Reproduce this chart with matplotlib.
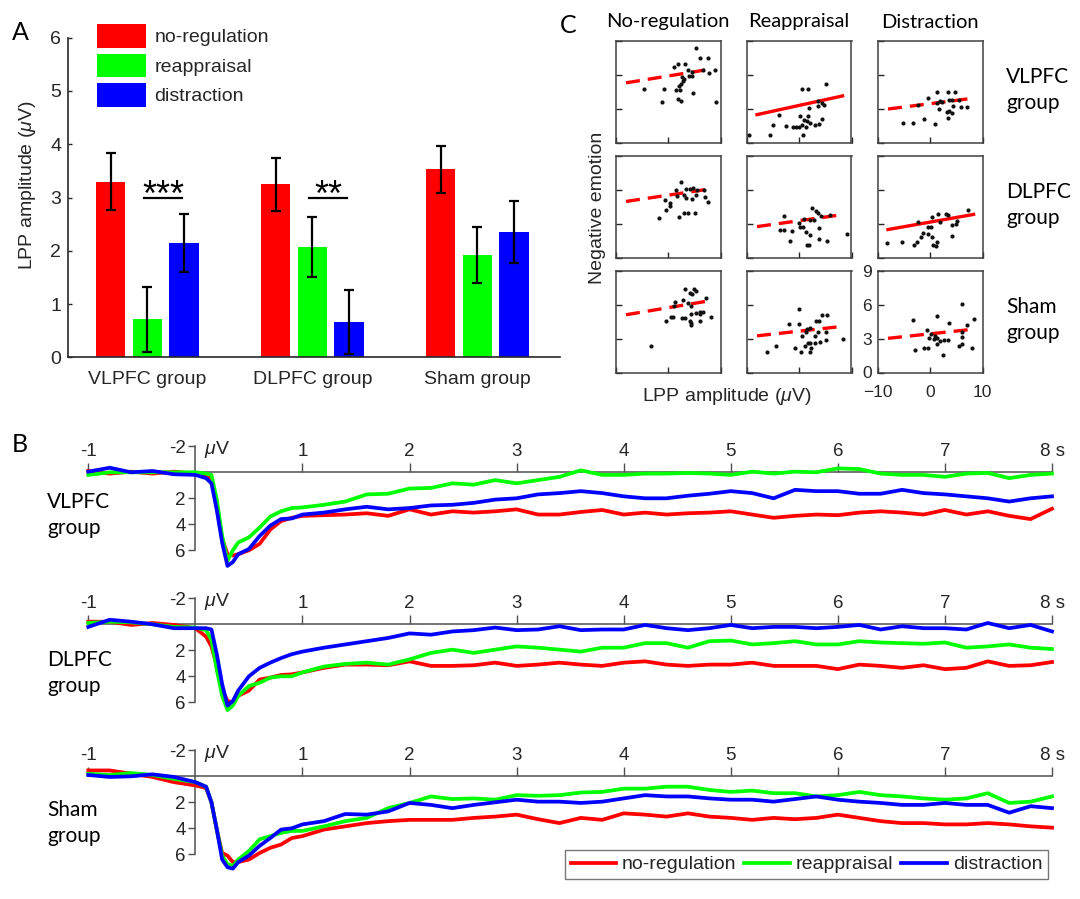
import matplotlib
matplotlib.use('Agg')
import matplotlib.pyplot as plt
import numpy as np

plt.rcParams['font.family'] = ['Liberation Sans', 'DejaVu Sans']
plt.rcParams['mathtext.fontset'] = 'custom'
plt.rcParams['mathtext.rm'] = 'Liberation Sans'
plt.rcParams['mathtext.it'] = 'Liberation Sans:italic'

# ---------------- data ----------------
groups = ['VLPFC group', 'DLPFC group', 'Sham group']
conditions = ['no-regulation', 'reappraisal', 'distraction']
cond_colors = ['#ff0000', '#00ff00', '#0000ff']

lpp_noreg = [3.30, 3.25, 3.53]
lpp_reapp = [0.71, 2.07, 1.92]
lpp_distr = [2.15, 0.67, 2.35]
err_noreg = [0.54, 0.50, 0.44]
err_reapp = [0.61, 0.56, 0.52]
err_distr = [0.54, 0.60, 0.58]
sig_groups = [0, 1]
sig_labels = ['***', '**']
sig_level = [3.0, 3.0]

# panel C scatter data (LPP amplitude, negative emotion)
vl_noreg_x = [5.34, 6.17, 7.57, 1.82, 3.23, 1.18, 3.80, 4.57, 6.61, 7.76, 9.04, 3.93, 4.57, 2.65, 3.10, 2.78, 2.52, 2.01, 2.20, 1.57, -4.57, -0.73, 4.76, -1.18, 1.82, 2.40, 9.23]
vl_noreg_y = [8.38, 7.48, 7.48, 6.92, 6.92, 6.68, 6.39, 6.24, 6.39, 6.15, 6.39, 5.94, 5.94, 5.79, 5.64, 5.49, 5.20, 5.05, 4.69, 4.66, 4.75, 4.75, 4.43, 3.56, 3.86, 3.71, 3.56]
vl_reapp_x = [5.11, 0.48, 1.75, 3.65, 4.29, 4.73, 3.65, 1.94, -3.84, 0.16, 1.75, 0.92, 1.56, 4.41, -1.11, -0.48, 0.03, 0.54, 1.30, 2.19, 3.02, 3.78, -2.51, -4.92, -9.56, -5.43, 0.79]
vl_reapp_y = [5.20, 4.75, 4.75, 3.71, 3.47, 3.36, 3.27, 3.06, 2.47, 2.38, 2.38, 1.99, 1.93, 2.08, 1.40, 1.40, 1.40, 1.54, 1.34, 1.72, 1.54, 1.63, 1.43, 1.54, 0.65, 0.65, 0.65]
vl_distr_x = [1.27, 3.50, 4.78, -0.45, 1.91, 3.63, 4.27, 5.54, -2.23, 1.40, 2.29, 1.78, 4.46, 5.86, 7.01, 3.69, 3.18, 4.20, 3.50, -1.15, 0.96, -5.22, -3.31]
vl_distr_y = [4.46, 4.46, 4.46, 3.92, 3.71, 3.80, 3.80, 3.80, 3.36, 3.47, 3.59, 2.97, 3.27, 3.12, 3.12, 2.82, 2.73, 2.64, 2.17, 2.08, 1.63, 1.69, 1.69]
dl_noreg_x = [2.46, 1.57, 3.42, 4.12, 4.76, 5.53, 5.34, -0.54, 0.42, 0.29, -0.35, 1.69, 3.48, 4.57, 6.81, 7.12, 7.64, -1.69, 2.14, 3.10, 3.74, 5.21, 2.97]
dl_noreg_y = [6.70, 6.01, 6.10, 6.10, 6.19, 5.95, 5.57, 5.06, 4.85, 4.61, 4.17, 5.42, 5.27, 5.15, 5.95, 5.36, 4.91, 3.51, 3.57, 3.96, 3.96, 3.96, 5.51]
dl_reapp_x = [2.51, 3.21, 3.71, 4.10, 5.87, -2.95, 0.92, 2.19, 2.83, -0.03, 0.16, 0.79, -3.65, -2.95, -1.24, 3.84, 1.24, 2.19, -1.62, 1.43, 1.94, 3.84, 5.24, 9.05]
dl_reapp_y = [4.38, 4.11, 3.93, 3.72, 3.78, 3.66, 3.42, 3.36, 3.36, 3.07, 2.68, 2.74, 2.44, 2.44, 2.38, 2.62, 2.29, 1.99, 1.49, 1.13, 1.13, 1.64, 1.49, 2.08]
dl_distr_x = [7.20, 0.45, 1.46, 2.99, 3.50, 1.91, -2.23, -0.45, 0.19, 4.14, 5.22, 4.97, -1.27, -1.72, -0.32, 0.45, 1.27, 4.14, -3.06, -2.55, 0.64, 1.15, -8.15, -5.41]
dl_distr_y = [4.17, 3.63, 3.87, 3.87, 3.78, 3.13, 3.13, 2.74, 2.74, 2.92, 3.27, 2.98, 2.17, 1.79, 2.08, 1.79, 1.40, 1.93, 1.13, 1.34, 1.13, 1.04, 1.25, 1.40]
sh_noreg_x = [3.21, 4.92, 5.24, 4.16, 4.60, 2.83, 1.30, 7.33, 1.11, 3.78, 4.29, 0.48, 0.92, -0.29, 2.70, 3.33, 4.29, 5.24, 6.00, 6.70, 6.19, 4.10, 4.41, 4.29, 6.19, 8.22, -3.21]
sh_noreg_y = [7.44, 7.44, 7.27, 7.07, 6.92, 6.40, 6.26, 6.58, 5.86, 6.20, 5.91, 4.90, 4.90, 4.56, 4.85, 4.85, 5.19, 5.25, 5.39, 5.39, 5.19, 4.61, 4.41, 4.18, 4.61, 4.90, 2.37]
sh_reapp_x = [0.03, -1.94, 0.03, 3.33, 3.84, 4.29, 5.37, 1.43, 2.06, 0.60, 1.24, 3.02, 3.65, 5.05, 5.05, 1.62, 2.19, 3.14, 1.11, 2.38, 3.97, -0.67, 0.29, 2.06, -4.35, -6.19, 8.41]
sh_reapp_y = [5.62, 4.33, 4.33, 4.56, 4.56, 5.11, 5.11, 3.89, 3.95, 3.26, 3.55, 3.26, 3.55, 3.61, 2.88, 2.65, 2.60, 2.60, 2.31, 2.16, 2.74, 2.16, 1.82, 1.82, 2.31, 1.82, 2.94]
sh_distr_x = [6.19, -3.27, 1.30, 3.65, 7.02, 8.41, -0.60, 0.16, 0.98, -0.16, 0.67, 1.30, 1.94, 2.70, 3.52, 6.06, 6.06, 5.56, 6.19, -2.83, -1.11, -0.29, 2.57, 7.97, 1.30]
sh_distr_y = [6.06, 4.67, 5.05, 4.41, 4.18, 4.76, 3.75, 3.37, 3.26, 3.03, 2.94, 3.09, 2.80, 2.88, 2.88, 3.55, 3.17, 2.39, 2.54, 1.96, 2.16, 2.16, 1.59, 2.16, 2.51]

# regression lines: y at x=-8 and at x=8.3, and whether significant (solid)
fit_x = [-8.0, 8.3]
fit_y_start = [[5.29, 2.47, 2.97], [4.97, 2.74, 2.48], [5.12, 3.25, 3.03]]
fit_y_end = [[6.52, 4.13, 3.93], [6.10, 3.80, 3.82], [6.39, 4.09, 3.84]]
fit_significant = [[False, True, False], [False, False, True], [False, False, False]]

col_titles = ['No-regulation', 'Reappraisal', 'Distraction']
row_titles = ['VLPFC\ngroup', 'DLPFC\ngroup', 'Sham\ngroup']

# panel B ERP waveforms (time in s, amplitude in microvolts)
erp_t = [-1.0, -0.8, -0.6, -0.4, -0.2, 0.0, 0.1, 0.15, 0.2, 0.25, 0.3, 0.35, 0.4,
         0.5, 0.6, 0.7, 0.8, 0.9, 1.0, 1.2, 1.4, 1.6, 1.8, 2.0, 2.2, 2.4, 2.6, 2.8,
         3.0, 3.2, 3.4, 3.6, 3.8, 4.0, 4.2, 4.4, 4.6, 4.8, 5.0, 5.2, 5.4, 5.6, 5.8,
         6.0, 6.2, 6.4, 6.6, 6.8, 7.0, 7.2, 7.4, 7.6, 7.8, 8.0]
vl_erp_noreg = [-0.1, 0.1, -0.05, 0.1, -0.05, 0.1, 0.2, 0.45, 2.7, 5.1, 6.3, 6.4, 6.3,
                6.0, 5.5, 4.4, 3.75, 3.5, 3.35, 3.3, 3.25, 3.15, 3.35, 2.85, 3.25, 3.0, 3.1, 3.0,
                2.85, 3.25, 3.25, 3.05, 2.9, 3.25, 3.1, 3.25, 3.15, 3.1, 3.0, 3.25, 3.5, 3.35, 3.25,
                3.3, 3.1, 3.0, 3.1, 3.25, 2.9, 3.25, 3.0, 3.35, 3.6, 2.8]
vl_erp_reapp = [0.2, 0.0, 0.0, 0.0, 0.0, 0.0, 0.1, 0.2, 2.1, 4.9, 6.8, 6.0, 5.4,
                5.0, 4.25, 3.4, 3.0, 2.75, 2.7, 2.5, 2.25, 1.7, 1.65, 1.25, 1.2, 0.85, 0.95, 0.6,
                0.85, 0.6, 0.35, -0.15, 0.2, 0.2, 0.1, 0.1, 0.05, 0.1, 0.2, -0.05, 0.1, -0.05, 0.0,
                -0.3, -0.25, 0.1, 0.2, 0.2, 0.35, 0.1, 0.05, 0.45, 0.2, 0.1]
vl_erp_distr = [-0.05, -0.35, 0.0, -0.1, 0.15, 0.2, 0.45, 0.85, 2.9, 5.4, 7.2, 6.9, 6.3,
                5.9, 4.9, 4.1, 3.6, 3.55, 3.25, 3.1, 2.85, 2.65, 2.85, 2.75, 2.55, 2.5, 2.35, 2.1,
                2.0, 1.7, 1.6, 1.45, 1.6, 1.85, 2.0, 2.0, 1.8, 1.65, 1.45, 1.6, 2.0, 1.35, 1.45,
                1.45, 1.65, 1.65, 1.35, 1.6, 1.7, 1.85, 2.0, 2.25, 2.0, 1.85]
dl_erp_noreg = [-0.2, -0.2, 0.05, -0.1, 0.05, 0.3, 0.95, 1.7, 3.2, 5.0, 5.9, 6.0, 5.5,
                5.1, 4.25, 4.1, 3.9, 3.85, 3.7, 3.35, 3.1, 3.1, 3.15, 2.85, 3.2, 3.2, 3.15, 2.95,
                3.2, 3.1, 2.95, 3.1, 3.2, 2.95, 2.85, 3.1, 3.2, 3.1, 3.1, 2.95, 3.2, 3.2, 3.2,
                3.45, 3.1, 3.2, 3.35, 3.15, 3.45, 3.35, 2.85, 3.2, 3.15, 2.9]
dl_erp_reapp = [-0.1, -0.2, -0.15, 0.0, 0.2, 0.25, 0.45, 1.2, 3.5, 5.5, 6.6, 6.25, 5.5,
                4.75, 4.5, 4.1, 4.0, 4.0, 3.7, 3.25, 3.05, 2.95, 3.1, 2.7, 2.2, 1.95, 2.2, 1.95,
                1.7, 1.8, 1.95, 2.1, 1.8, 1.8, 1.45, 1.45, 1.8, 1.3, 1.25, 1.55, 1.45, 1.3, 1.55,
                1.55, 1.3, 1.4, 1.45, 1.5, 1.4, 1.8, 1.7, 1.55, 1.8, 1.9]
dl_erp_distr = [0.2, -0.35, -0.2, 0.0, 0.3, 0.3, 0.3, 0.4, 2.3, 4.6, 6.25, 5.9, 5.1,
                4.0, 3.35, 2.95, 2.6, 2.3, 2.1, 1.8, 1.55, 1.3, 1.05, 0.7, 0.8, 0.55, 0.45, 0.25,
                0.45, 0.4, 0.15, 0.45, 0.4, 0.4, 0.05, 0.3, 0.45, 0.3, 0.05, 0.3, 0.2, 0.2, 0.3,
                0.2, 0.05, 0.4, 0.15, 0.3, 0.3, 0.4, -0.1, 0.3, 0.05, 0.55]
sh_erp_noreg = [-0.45, -0.45, -0.2, 0.05, 0.45, 0.7, 0.9, 2.0, 4.1, 5.9, 6.1, 6.6, 6.6,
                6.4, 5.9, 5.5, 5.25, 4.75, 4.6, 4.1, 3.85, 3.6, 3.45, 3.35, 3.35, 3.35, 3.2, 3.1,
                2.95, 3.3, 3.6, 3.2, 3.35, 2.85, 2.95, 3.1, 2.85, 3.1, 3.2, 3.35, 3.2, 3.3, 3.2,
                2.95, 3.2, 3.45, 3.6, 3.6, 3.7, 3.7, 3.6, 3.7, 3.85, 3.95]
sh_erp_reapp = [-0.2, -0.1, -0.25, -0.1, 0.2, 0.45, 0.8, 2.0, 4.1, 6.1, 6.75, 6.9, 6.4,
                5.75, 4.85, 4.6, 4.35, 4.2, 4.2, 3.85, 3.45, 3.2, 2.45, 2.05, 1.55, 1.75, 1.7, 1.8,
                1.45, 1.5, 1.45, 1.25, 1.2, 0.95, 0.95, 0.8, 0.8, 1.05, 1.2, 1.1, 1.3, 1.3, 1.55,
                1.45, 1.2, 1.45, 1.55, 1.7, 1.8, 1.7, 1.3, 2.05, 1.95, 1.55]
sh_erp_distr = [-0.1, 0.05, 0.0, -0.15, 0.05, 0.45, 0.8, 2.0, 4.1, 6.4, 7.0, 7.1, 6.6,
                6.1, 5.35, 4.75, 4.1, 4.0, 3.7, 3.45, 2.9, 2.95, 2.7, 2.05, 2.2, 2.45, 2.2, 2.0,
                1.8, 1.95, 1.95, 2.05, 1.95, 1.7, 1.45, 1.55, 1.55, 1.7, 1.8, 1.8, 1.95, 1.75, 1.55,
                1.8, 1.95, 2.05, 2.2, 2.2, 2.05, 2.2, 2.2, 2.8, 2.3, 2.45]

erp_xticks = [-1, 1, 2, 3, 4, 5, 6, 7, 8]
erp_xticklabels = ['-1', '1', '2', '3', '4', '5', '6', '7', '8 s']
erp_yticks = [-2, 2, 4, 6]
erp_yticklabels = ['-2', '2', '4', '6']
erp_rows = ['VLPFC\ngroup', 'DLPFC\ngroup', 'Sham\ngroup']

# ---------------- figure ----------------
W, H = 1080, 899
fig = plt.figure(figsize=(W / 100, H / 100), dpi=100)
GREY = '#262626'
CAL = ['Lato', 'DejaVu Sans']


def ax_px(l, t, r, b):
    return fig.add_axes([l / W, 1 - b / H, (r - l) / W, (b - t) / H])


def ftext(x, y, s, **kw):
    return fig.text(x / W, 1 - y / H, s, **kw)


# ---------- Panel A ----------
axA = ax_px(68, 37.7, 560, 357.3)
xg = np.arange(1, len(groups) + 1)
offs = [-0.2222, 0.0, 0.2222]
bw = 0.178
means = [lpp_noreg, lpp_reapp, lpp_distr]
errs = [err_noreg, err_reapp, err_distr]
bars = []
for i in range(3):
    b = axA.bar(xg + offs[i], means[i], bw, color=cond_colors[i], label=conditions[i], zorder=2)
    bars.append(b)
    axA.errorbar(xg + offs[i], means[i], yerr=errs[i], fmt='none', ecolor='k',
                 elinewidth=1.6, capsize=3.6, capthick=1.6, zorder=3)
for g, lab, lev in zip(sig_groups, sig_labels, sig_level):
    x0 = xg[g] + offs[1] - 0.02
    x1 = xg[g] + offs[2] - 0.01
    axA.plot([x0, x1], [lev, lev], color='k', lw=1.6, zorder=3)
    axA.text((x0 + x1) / 2, lev - 0.15, lab, ha='center', va='baseline', fontsize=26, color='k')
axA.set_xlim(0.52, 3.5)
axA.set_ylim(0, 6)
axA.set_yticks(range(0, 7))
axA.set_xticks(xg)
axA.set_xticklabels(groups)
for s in ['top', 'right']:
    axA.spines[s].set_visible(False)
for s in ['left', 'bottom']:
    axA.spines[s].set_color(GREY)
    axA.spines[s].set_linewidth(1.2)
axA.tick_params(axis='y', direction='in', length=3, width=1, colors=GREY, labelsize=14, pad=5)
axA.tick_params(axis='x', length=0, colors=GREY, labelsize=14, pad=10)
leg = axA.legend(handles=bars, loc='upper left', bbox_to_anchor=(97 / W, 1 - 24 / H),
                 bbox_transform=fig.transFigure, frameon=False, fontsize=14,
                 handlelength=2.5, handleheight=1.5, labelspacing=0.3, handletextpad=0.46,
                 borderpad=0, borderaxespad=0)
for t in leg.get_texts():
    t.set_color(GREY)
ftext(28, 185, r'LPP amplitude ($\mu$V)', rotation=90, ha='center', va='center',
      fontsize=14, color=GREY)
ftext(12, 40, 'A', fontsize=18, family=CAL, ha='left', va='baseline')

# ---------- Panel C ----------
scatter_x = [[vl_noreg_x, vl_reapp_x, vl_distr_x],
             [dl_noreg_x, dl_reapp_x, dl_distr_x],
             [sh_noreg_x, sh_reapp_x, sh_distr_x]]
scatter_y = [[vl_noreg_y, vl_reapp_y, vl_distr_y],
             [dl_noreg_y, dl_reapp_y, dl_distr_y],
             [sh_noreg_y, sh_reapp_y, sh_distr_y]]
col_left = [615.5, 746.5, 877.5]
row_top = [41, 156, 271]
bw_px, bh_px = 105, 101.5
for r in range(3):
    for c in range(3):
        ax = ax_px(col_left[c], row_top[r], col_left[c] + bw_px, row_top[r] + bh_px)
        ax.scatter(scatter_x[r][c], scatter_y[r][c], s=9, color='#111111', zorder=3,
                   linewidths=0, clip_on=False)
        ls = '-' if fit_significant[r][c] else (0, (4.2, 2.4))
        ax.plot(fit_x, [fit_y_start[r][c], fit_y_end[r][c]], color='#ff0000', lw=2.4,
                linestyle=ls, zorder=2)
        ax.set_xlim(-10, 10)
        ax.set_ylim(0, 9)
        ax.set_xticks([-10, 0, 10])
        ax.set_yticks([0, 3, 6, 9])
        ax.tick_params(axis='y', direction='in', length=4, width=1, colors=GREY,
                       labelsize=12.5, pad=4)
        ax.tick_params(axis='x', direction='in', length=4, width=1, colors=GREY,
                       labelsize=12.5, pad=9)
        for s in ax.spines.values():
            s.set_color('#404040')
            s.set_linewidth(1.1)
        if not (r == 2 and c == 2):
            ax.set_xticklabels([])
            ax.set_yticklabels([])
for c in range(3):
    ftext(col_left[c] + bw_px / 2, 22, col_titles[c], ha='center', va='center',
          fontsize=14.5, family=CAL)
for r in range(3):
    ftext(1006, row_top[r] + 49, row_titles[r], ha='left', va='center', fontsize=15,
          family=CAL, linespacing=1.4)
ftext(597, 208, 'Negative emotion', rotation=90, ha='center', va='center', fontsize=14, color=GREY)
ftext(727, 397, r'LPP amplitude ($\mu$V)', ha='center', va='center', fontsize=14, color=GREY)
ftext(560, 33, 'C', fontsize=18, family=CAL, ha='left', va='baseline')

# ---------- Panel B ----------
erp_data = [[vl_erp_noreg, vl_erp_reapp, vl_erp_distr],
            [dl_erp_noreg, dl_erp_reapp, dl_erp_distr],
            [sh_erp_noreg, sh_erp_reapp, sh_erp_distr]]
line_y = [472.3, 624.3, 776.3]
row_label_y = [515, 673, 823]
pxuv = 13.0
last_lines = []
for r in range(3):
    ax = ax_px(88.3, line_y[r] - 2.2 * pxuv, 1052, line_y[r] + 7.8 * pxuv)
    ax.patch.set_alpha(0)
    lines = []
    for k in range(3):
        ln, = ax.plot(erp_t, erp_data[r][k], color=cond_colors[k], lw=2.7, clip_on=False,
                      zorder=3, label=conditions[k], solid_joinstyle='round')
        lines.append(ln)
    last_lines = lines
    ax.set_xlim(-1, 8)
    ax.set_ylim(7.8, -2.2)
    ax.spines['bottom'].set_visible(False)
    ax.spines['right'].set_visible(False)
    ax.spines['top'].set_position(('data', 0))
    ax.spines['top'].set_bounds(-1, 8)
    ax.spines['left'].set_position(('data', 0))
    ax.spines['left'].set_bounds(-2, 6)
    for s in ['top', 'left']:
        ax.spines[s].set_color('#505050')
        ax.spines[s].set_linewidth(1.1)
        ax.spines[s].set_zorder(2)
    ax.xaxis.set_ticks_position('top')
    ax.set_xticks(erp_xticks)
    ax.set_xticklabels(erp_xticklabels)
    ax.set_yticks(erp_yticks)
    ax.set_yticklabels(erp_yticklabels)
    ax.tick_params(axis='x', direction='out', length=6.5, width=1, colors='#505050',
                   labelcolor=GREY, labelsize=13.5, pad=2)
    ax.tick_params(axis='y', direction='out', length=5, width=1, colors='#505050',
                   labelcolor=GREY, labelsize=13.5, pad=2)
    ax.text(0.08, -1.75, r'$\mu$V', ha='left', va='center', fontsize=14, color=GREY)
    ftext(47, row_label_y[r], erp_rows[r], ha='left', va='center', fontsize=15,
          family=CAL, linespacing=1.35)
ftext(12, 452, 'B', fontsize=18, family=CAL, ha='left', va='baseline')

legB = fig.legend(handles=last_lines, loc='upper right', bbox_to_anchor=(1048 / W, 1 - 850 / H),
                  ncol=3, fontsize=14, frameon=True, fancybox=False, edgecolor='#555555',
                  handlelength=2.35, handletextpad=0.3, columnspacing=0.4, borderpad=0.3,
                  borderaxespad=0)
legB.get_frame().set_linewidth(1.0)
for t in legB.get_texts():
    t.set_color(GREY)

fig.savefig('out.png', dpi=100)
